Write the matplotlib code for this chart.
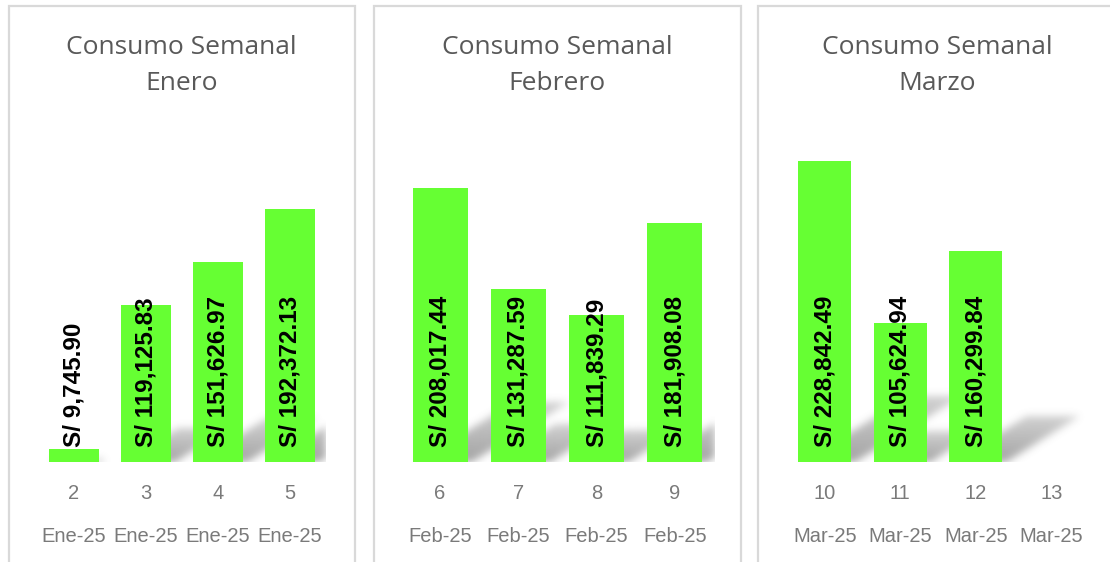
import numpy as np
import matplotlib
matplotlib.use("Agg")
import matplotlib.pyplot as plt
from matplotlib.patches import Rectangle
from matplotlib.path import Path

# ---------------- data ----------------
months = ["Enero", "Febrero", "Marzo"]
weeks_ene = [2, 3, 4, 5]
weeks_feb = [6, 7, 8, 9]
weeks_mar = [10, 11, 12, 13]
labels_ene = ["Ene-25", "Ene-25", "Ene-25", "Ene-25"]
labels_feb = ["Feb-25", "Feb-25", "Feb-25", "Feb-25"]
labels_mar = ["Mar-25", "Mar-25", "Mar-25", "Mar-25"]
values_ene = [9745.90, 119125.83, 151626.97, 192372.13]
values_feb = [208017.44, 131287.59, 111839.29, 181908.08]
values_mar = [228842.49, 105624.94, 160299.84, None]

W_PX, H_PX = 1110, 562
fig = plt.figure(figsize=(W_PX / 100, H_PX / 100), dpi=100)

BAR_COLOR = "#66FF33"
TITLE_COLOR = "#595959"
TICK_COLOR = "#7a7a7a"
BORDER_COLOR = "#d9d9d9"
YMAX = 250000

panels = [
    dict(box=(8.5, 355), plot=(38, 326), weeks=weeks_ene, labels=labels_ene, vals=values_ene, month=months[0]),
    dict(box=(373.5, 741), plot=(401, 714), weeks=weeks_feb, labels=labels_feb, vals=values_feb, month=months[1]),
    dict(box=(757.5, 1117), plot=(787, 1089), weeks=weeks_mar, labels=labels_mar, vals=values_mar, month=months[2]),
]
PLOT_TOP, PLOT_BOT = 133, 462


def gauss_blur(arr, sigma):
    r = int(3 * sigma)
    xk = np.arange(-r, r + 1)
    k = np.exp(-xk ** 2 / (2 * sigma ** 2))
    k /= k.sum()
    pad = np.pad(arr, r, mode="constant")
    out = np.apply_along_axis(lambda m: np.convolve(m, k, mode="same"), 0, pad)
    out = np.apply_along_axis(lambda m: np.convolve(m, k, mode="same"), 1, out)
    return out[r:-r, r:-r]


def add_shadow(ax, xs, vals, width, pw, ph, xlim):
    W, H = int(round(pw)), int(round(ph))
    gx, gy = np.meshgrid(np.arange(W) + 0.5, np.arange(H) + 0.5)
    pts = np.column_stack([gx.ravel(), gy.ravel()])
    mask = np.zeros((H, W))
    sx = W / (xlim[1] - xlim[0])
    sy = H / YMAX
    for x, v in zip(xs, vals):
        if v is None:
            continue
        x0 = (x - width / 2 - xlim[0]) * sx
        x1 = (x + width / 2 - xlim[0]) * sx
        h = v * sy
        k, s = 0.37, 0.22
        sh = s * h
        poly = Path([(x0 + 4, 0), (x1 + 4, 0), (x1 + k * h, sh), (x0 + k * h, sh), (x0 + 4, 0)])
        inside = poly.contains_points(pts).reshape(H, W).astype(float)
        fade = np.clip(1 - 0.5 * (gy / max(sh, 1)), 0, 1)
        mask = np.maximum(mask, inside * fade)
    mask = gauss_blur(mask, 4.0)
    img = np.zeros((H, W, 4))
    img[..., :3] = 0.4
    img[..., 3] = np.clip(mask, 0, 1) * 0.6
    ax.imshow(img, origin="lower", extent=(xlim[0], xlim[1], 0, YMAX),
              aspect="auto", zorder=1, interpolation="bilinear")


for p in panels:
    bl, br = p["box"]
    fig.patches.append(Rectangle((bl / W_PX, -0.05), (br - bl) / W_PX, 1 - 6 / H_PX + 0.05,
                                 transform=fig.transFigure, fill=False,
                                 edgecolor=BORDER_COLOR, linewidth=1.6))
    pl, pr = p["plot"]
    ax = fig.add_axes([pl / W_PX, 1 - PLOT_BOT / H_PX, (pr - pl) / W_PX, (PLOT_BOT - PLOT_TOP) / H_PX])
    ax.set_facecolor("none")
    n = len(p["weeks"])
    xs = np.arange(n)
    xlim = (-0.5, n - 0.5)
    vals = p["vals"]
    vplot = [np.nan if v is None else v for v in vals]
    width = 0.7
    add_shadow(ax, xs, vals, width, pr - pl, PLOT_BOT - PLOT_TOP, xlim)
    ax.bar(xs, vplot, width=width, color=BAR_COLOR, zorder=2)
    for x, v in zip(xs, vals):
        if v is None:
            continue
        ax.annotate(f"S/ {v:,.2f}", xy=(x, 0), xytext=(0, 11), textcoords="offset points",
                    rotation=90, ha="center", va="bottom", fontsize=17.5, fontweight="bold",
                    family="Liberation Sans", color="black", zorder=3)
    ax.set_xlim(*xlim)
    ax.set_ylim(0, YMAX)
    ax.set_xticks([])
    ax.set_yticks([])
    for s in ax.spines.values():
        s.set_visible(False)
    for x, w, lab in zip(xs, p["weeks"], p["labels"]):
        ax.annotate(str(w), xy=(x, 0), xycoords=("data", "axes fraction"),
                    xytext=(0, -22.5), textcoords="offset points", ha="center", va="center",
                    fontsize=14.5, color=TICK_COLOR, family="Liberation Sans")
        ax.annotate(lab, xy=(x, 0), xycoords=("data", "axes fraction"),
                    xytext=(0, -54), textcoords="offset points", ha="center", va="center",
                    fontsize=14.5, color=TICK_COLOR, family="Liberation Sans")
    cx = (bl + br) / 2
    fig.text(cx / W_PX, 1 - 47 / H_PX, "Consumo Semanal", ha="center", va="center",
             fontsize=19, color=TITLE_COLOR, family="Open Sans")
    fig.text(cx / W_PX, 1 - 84 / H_PX, p["month"], ha="center", va="center",
             fontsize=19, color=TITLE_COLOR, family="Open Sans")

fig.savefig("out.png", dpi=100, facecolor="white")
